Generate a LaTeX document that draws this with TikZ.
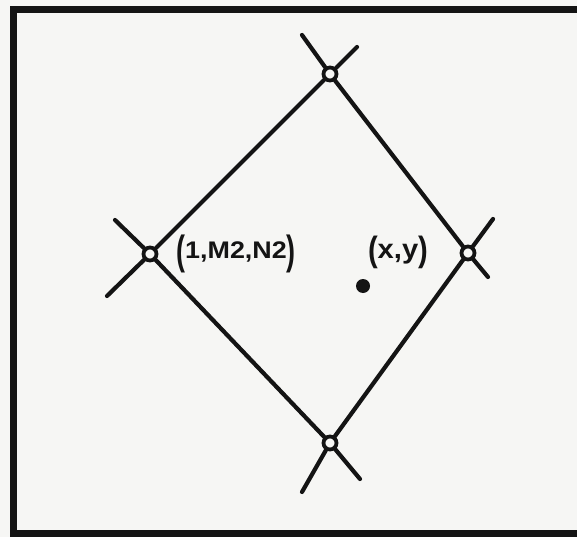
\documentclass[tikz,border=0pt]{standalone}
\usepackage{fontspec}
\setmainfont{Liberation Sans}
\definecolor{paper}{HTML}{F6F6F4}
\definecolor{ink}{HTML}{141414}
\begin{document}
\begin{tikzpicture}[x=1pt,y=-1pt,
  ink/.style={draw=ink, line width=4.2pt, line cap=round},
  vertex/.style={circle, draw=ink, line width=3.8pt, fill=paper, inner sep=0pt, minimum size=13pt},
  hand/.style={text=ink, inner sep=0pt, font=\bfseries}]
\fill[paper] (0,0) rectangle (577,537);
\useasboundingbox (0,0) rectangle (577,537);
% frame
\draw[draw=ink, line width=7pt, line join=miter] (577,10) -- (13.5,10) -- (13.5,533) -- (577,533);
% vertices
\node[vertex] (t) at (330,74) {};
\node[vertex] (l) at (150,254) {};
\node[vertex] (r) at (468,253) {};
\node[vertex] (b) at (330,443) {};
% arm ends
\coordinate (t1) at (302,35);
\coordinate (t2) at (357,47);
\coordinate (l1) at (115,220);
\coordinate (l2) at (107,296);
\coordinate (r1) at (493,219);
\coordinate (r2) at (488,277);
\coordinate (b1) at (302,492);
\coordinate (b2) at (360,479);
% diamond
\draw[ink] (t) -- (r);
\draw[ink] (r) -- (b);
\draw[ink] (b) -- (l);
\draw[ink] (l) -- (t);
% arms
\draw[ink] (t) -- (t1);
\draw[ink] (t) -- (t2);
\draw[ink] (l) -- (l1);
\draw[ink] (l) -- (l2);
\draw[ink] (r) -- (r1);
\draw[ink] (r) -- (r2);
\draw[ink] (b) -- (b1);
\draw[ink] (b) -- (b2);
% point
\node[circle, fill=ink, inner sep=0pt, minimum size=14pt] (p) at (363,286) {};
% labels
\node[hand, font=\fontsize{24}{24}\selectfont\bfseries, xscale=1.12] (lab1) at (236,254)
  {\raisebox{-6pt}{\scalebox{1}[1.7]{(}}1,M2,N2\raisebox{-6pt}{\scalebox{1}[1.7]{)}}};
\node[hand, font=\fontsize{27}{27}\selectfont\bfseries, xscale=1.08] (lab2) at (398,252)
  {\raisebox{-3pt}{\scalebox{1}[1.3]{(}}x,y\raisebox{-3pt}{\scalebox{1}[1.3]{)}}};
\end{tikzpicture}
\end{document}
